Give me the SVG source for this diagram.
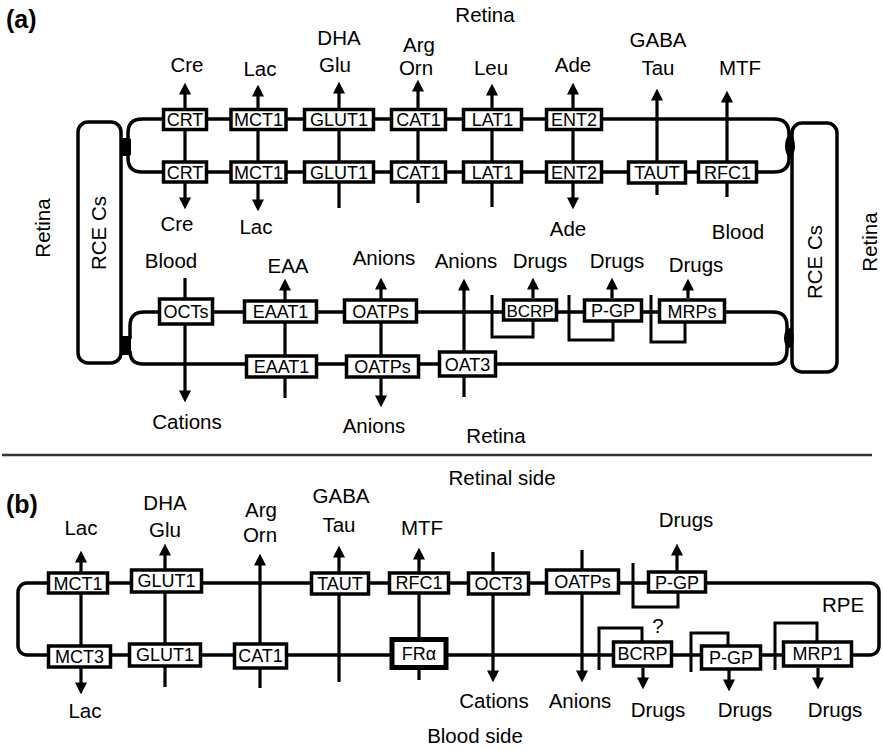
<svg xmlns="http://www.w3.org/2000/svg" width="883" height="750" viewBox="0 0 883 750">
<defs>
<style>
.mem{fill:none;stroke:#000;stroke-width:3.5}
.ln{fill:none;stroke:#000;stroke-width:3.2}
.br{fill:none;stroke:#000;stroke-width:3}
.bx{fill:#fff;stroke:#000;stroke-width:3.5}
.bt{font-family:"Liberation Sans",Arial,sans-serif;font-size:18px;text-anchor:middle;fill:#000}
.lb{font-family:"Liberation Sans",Arial,sans-serif;font-size:20.5px;text-anchor:middle;fill:#000}
.hd{font-family:"Liberation Sans",Arial,sans-serif;font-size:25px;font-weight:bold;fill:#000}
</style>
<marker id="ah" viewBox="0 0 10 10" refX="3" refY="5" markerWidth="12" markerHeight="12" markerUnits="userSpaceOnUse" orient="auto-start-reverse"><path d="M0,0 L10,5 L0,10 z" fill="#000"/></marker>
</defs>
<rect width="883" height="750" fill="#fff"/>

<g id="connectors">
<path class="mem" d="M128 141 L128 133 Q128 119 142 119 L774 119 Q789 119 789 134 L789 141"/>
<path class="mem" d="M128 152 L128 158 Q128 172 142 172 L774 172 Q789 172 789 158 L789 151"/>
<rect x="121" y="138" width="10" height="18" rx="2" fill="#000"/>
<ellipse cx="790" cy="146" rx="5" ry="11" fill="#000"/>
<path class="ln" d="M185 201 L185 91" marker-start="url(#ah)" marker-end="url(#ah)"/>
<path class="ln" d="M258 203 L258 93" marker-start="url(#ah)" marker-end="url(#ah)"/>
<path class="ln" d="M339 208 L339 90" marker-end="url(#ah)"/>
<path class="ln" d="M418 203 L418 88" marker-end="url(#ah)"/>
<path class="ln" d="M492 207 L492 92" marker-end="url(#ah)"/>
<path class="ln" d="M573 201 L573 91" marker-start="url(#ah)" marker-end="url(#ah)"/>
<path class="ln" d="M657 195 L657 97" marker-end="url(#ah)"/>
<path class="ln" d="M727 197 L727 99" marker-end="url(#ah)"/>
<path class="mem" d="M130 339 L130 326 Q130 312 144 312 L773 312 Q787 312 787 326 L787 333"/>
<path class="mem" d="M130 351 Q130 364 143 364 L773 364 Q787 364 787 350 L787 343"/>
<rect x="121" y="336" width="10" height="19" rx="2" fill="#000"/>
<ellipse cx="789" cy="338" rx="5" ry="10" fill="#000"/>
<path class="ln" d="M185 278 L185 394" marker-end="url(#ah)"/>
<path class="ln" d="M285 398 L285 287" marker-end="url(#ah)"/>
<path class="ln" d="M381 399 L381 286" marker-start="url(#ah)" marker-end="url(#ah)"/>
<path class="ln" d="M464 397 L464 287" marker-end="url(#ah)"/>
<path class="ln" d="M533 298 L533 286" marker-end="url(#ah)"/>
<path class="br" d="M533 320 L533 337 L492 337 L492 295"/>
<path class="ln" d="M612 298 L612 286" marker-end="url(#ah)"/>
<path class="br" d="M613 322 L613 340 L569 340 L569 295"/>
<path class="ln" d="M688 298 L688 287" marker-end="url(#ah)"/>
<path class="br" d="M685 323 L685 342 L651 342 L651 295"/>
<line x1="2" y1="455" x2="872" y2="455" stroke="#333" stroke-width="2.5"/>
<rect class="mem" x="18" y="583" width="861" height="72" rx="9"/>
<path class="ln" d="M81 686 L81 559" marker-start="url(#ah)" marker-end="url(#ah)"/>
<path class="ln" d="M165 687 L165 552" marker-end="url(#ah)"/>
<path class="ln" d="M260 688 L260 562" marker-end="url(#ah)"/>
<path class="ln" d="M339 682 L339 554" marker-end="url(#ah)"/>
<path class="ln" d="M419 680 L419 556" marker-end="url(#ah)"/>
<path class="ln" d="M493 552 L493 674" marker-end="url(#ah)"/>
<path class="ln" d="M582 550 L582 674" marker-end="url(#ah)"/>
<path class="ln" d="M677 572 L677 552" marker-end="url(#ah)"/>
<path class="br" d="M678 593 L678 607 L633 607 L633 563"/>
<path class="ln" d="M643 668 L643 681" marker-end="url(#ah)"/>
<path class="br" d="M642 644 L642 628 L599 628 L599 670"/>
<path class="ln" d="M729 670 L729 683" marker-end="url(#ah)"/>
<path class="br" d="M728 645 L728 633 L691 633 L691 672"/>
<path class="ln" d="M818 668 L818 681" marker-end="url(#ah)"/>
<path class="br" d="M817 644 L817 623 L775 623 L775 670"/>
</g>

<g id="rce-left"><rect class="mem" x="78" y="122" width="43" height="241" rx="10"/><text class="lb" transform="translate(106 233) rotate(-90)">RCE Cs</text></g>
<g id="rce-right"><rect class="mem" x="792" y="123" width="45" height="249" rx="10"/><text class="lb" transform="translate(822 262) rotate(-90)">RCE Cs</text></g>

<g id="a-crt1"><rect class="bx" x="163.5" y="109.5" width="43" height="20"/><text class="bt" x="185" y="126">CRT</text></g>
<g id="a-mct1-1"><rect class="bx" x="231" y="109.5" width="55" height="20"/><text class="bt" x="258.5" y="126">MCT1</text></g>
<g id="a-glut1-1"><rect class="bx" x="304.5" y="109.5" width="69" height="20"/><text class="bt" x="339" y="126">GLUT1</text></g>
<g id="a-cat1-1"><rect class="bx" x="391.5" y="109.5" width="54" height="20"/><text class="bt" x="418.5" y="126">CAT1</text></g>
<g id="a-lat1-1"><rect class="bx" x="463.5" y="109.5" width="58" height="20"/><text class="bt" x="492.5" y="126">LAT1</text></g>
<g id="a-ent2-1"><rect class="bx" x="546.5" y="109.5" width="55" height="20"/><text class="bt" x="574" y="126">ENT2</text></g>
<g id="a-crt2"><rect class="bx" x="163.5" y="162" width="43" height="20"/><text class="bt" x="185" y="178.5">CRT</text></g>
<g id="a-mct1-2"><rect class="bx" x="231" y="162" width="55" height="20"/><text class="bt" x="258.5" y="178.5">MCT1</text></g>
<g id="a-glut1-2"><rect class="bx" x="304.5" y="162" width="69" height="20"/><text class="bt" x="339" y="178.5">GLUT1</text></g>
<g id="a-cat1-2"><rect class="bx" x="391.5" y="162" width="54" height="20"/><text class="bt" x="418.5" y="178.5">CAT1</text></g>
<g id="a-lat1-2"><rect class="bx" x="463.5" y="162" width="58" height="20"/><text class="bt" x="492.5" y="178.5">LAT1</text></g>
<g id="a-ent2-2"><rect class="bx" x="546.5" y="162" width="55" height="20"/><text class="bt" x="574" y="178.5">ENT2</text></g>
<g id="a-taut"><rect class="bx" x="628.5" y="162" width="57" height="21"/><text class="bt" x="657" y="179">TAUT</text></g>
<g id="a-rfc1"><rect class="bx" x="698.5" y="162" width="58" height="20"/><text class="bt" x="727.5" y="178.5">RFC1</text></g>
<g id="a-octs"><rect class="bx" x="159.5" y="299" width="53" height="25"/><text class="bt" x="186" y="318">OCTs</text></g>
<g id="a-eaat1-1"><rect class="bx" x="244.5" y="301" width="72" height="21"/><text class="bt" x="280.5" y="318">EAAT1</text></g>
<g id="a-oatps-1"><rect class="bx" x="344.5" y="300" width="72" height="22"/><text class="bt" x="380.5" y="317.5">OATPs</text></g>
<g id="a-bcrp"><rect class="bx" x="503.5" y="300" width="53" height="20"/><text class="bt" x="530" y="316.5" style="font-size:17px">BCRP</text></g>
<g id="a-pgp"><rect class="bx" x="584.5" y="300" width="57" height="21"/><text class="bt" x="613" y="317">P-GP</text></g>
<g id="a-mrps"><rect class="bx" x="659.5" y="300" width="65" height="22"/><text class="bt" x="692" y="318">MRPs</text></g>
<g id="a-eaat1-2"><rect class="bx" x="246.5" y="356" width="70" height="21"/><text class="bt" x="281.5" y="373">EAAT1</text></g>
<g id="a-oatps-2"><rect class="bx" x="346.5" y="356" width="72" height="21"/><text class="bt" x="382.5" y="373">OATPs</text></g>
<g id="a-oat3"><rect class="bx" x="439.5" y="352" width="56" height="24"/><text class="bt" x="467.5" y="370.5">OAT3</text></g>

<g id="b-mct1"><rect class="bx" x="48.5" y="573" width="59" height="20"/><text class="bt" x="78" y="589.5">MCT1</text></g>
<g id="b-glut1-1"><rect class="bx" x="131.5" y="570" width="70" height="22"/><text class="bt" x="166.5" y="587">GLUT1</text></g>
<g id="b-taut"><rect class="bx" x="311.5" y="573" width="57" height="21"/><text class="bt" x="340" y="590">TAUT</text></g>
<g id="b-rfc1"><rect class="bx" x="389.5" y="573" width="59" height="20"/><text class="bt" x="419" y="589">RFC1</text></g>
<g id="b-oct3"><rect class="bx" x="468.5" y="573" width="60" height="21"/><text class="bt" x="498.5" y="590">OCT3</text></g>
<g id="b-oatps"><rect class="bx" x="546.5" y="570" width="72" height="23"/><text class="bt" x="582.5" y="588">OATPs</text></g>
<g id="b-pgp-1"><rect class="bx" x="648.5" y="572" width="57" height="20"/><text class="bt" x="677" y="588.5">P-GP</text></g>
<g id="b-mct3"><rect class="bx" x="48.5" y="646" width="62" height="21"/><text class="bt" x="79.5" y="663">MCT3</text></g>
<g id="b-glut1-2"><rect class="bx" x="129.5" y="644" width="71" height="22"/><text class="bt" x="165" y="661">GLUT1</text></g>
<g id="b-cat1"><rect class="bx" x="234.5" y="644" width="52" height="24"/><text class="bt" x="260.5" y="662">CAT1</text></g>
<g id="b-fra"><rect class="bx" x="392" y="639.5" width="54" height="28" style="stroke-width:5"/><text class="bt" x="419" y="660">FRα</text></g>
<g id="b-bcrp"><rect class="bx" x="613.5" y="642" width="58" height="24"/><text class="bt" x="642.5" y="660">BCRP</text></g>
<g id="b-pgp-2"><rect class="bx" x="701.5" y="646" width="59" height="23"/><text class="bt" x="731" y="664">P-GP</text></g>
<g id="b-mrp1"><rect class="bx" x="783.5" y="642" width="68" height="24"/><text class="bt" x="817.5" y="660">MRP1</text></g>

<g id="labels">
<text class="hd" x="6" y="28">(a)</text>
<text class="lb" x="485" y="22">Retina</text>
<text class="lb" x="187" y="72">Cre</text>
<text class="lb" x="260" y="76">Lac</text>
<text class="lb" x="339" y="45">DHA</text>
<text class="lb" x="335" y="72">Glu</text>
<text class="lb" x="419" y="52">Arg</text>
<text class="lb" x="416" y="75">Orn</text>
<text class="lb" x="491" y="75">Leu</text>
<text class="lb" x="573" y="72">Ade</text>
<text class="lb" x="658" y="47">GABA</text>
<text class="lb" x="658" y="75">Tau</text>
<text class="lb" x="740" y="75">MTF</text>
<text class="lb" x="177" y="231">Cre</text>
<text class="lb" x="256" y="234">Lac</text>
<text class="lb" x="568" y="236">Ade</text>
<text class="lb" x="738" y="239">Blood</text>
<text class="lb" transform="translate(50 228) rotate(-90)">Retina</text>
<text class="lb" transform="translate(877 242) rotate(-90)">Retina</text>
<text class="lb" x="171" y="268">Blood</text>
<text class="lb" x="288" y="273">EAA</text>
<text class="lb" x="384" y="265">Anions</text>
<text class="lb" x="466" y="268">Anions</text>
<text class="lb" x="540" y="268">Drugs</text>
<text class="lb" x="617" y="268">Drugs</text>
<text class="lb" x="696" y="272">Drugs</text>
<text class="lb" x="187" y="429">Cations</text>
<text class="lb" x="374" y="433">Anions</text>
<text class="lb" x="496" y="443">Retina</text>
<text class="hd" x="6" y="513">(b)</text>
<text class="lb" x="502" y="485">Retinal side</text>
<text class="lb" x="81" y="535">Lac</text>
<text class="lb" x="165" y="510">DHA</text>
<text class="lb" x="165" y="537">Glu</text>
<text class="lb" x="261" y="517">Arg</text>
<text class="lb" x="260" y="542">Orn</text>
<text class="lb" x="341" y="503">GABA</text>
<text class="lb" x="339" y="532">Tau</text>
<text class="lb" x="422" y="535">MTF</text>
<text class="lb" x="686" y="527">Drugs</text>
<text class="lb" x="843" y="612">RPE</text>
<text class="lb" x="658" y="633">?</text>
<text class="lb" x="85" y="718">Lac</text>
<text class="lb" x="494" y="708">Cations</text>
<text class="lb" x="580" y="708">Anions</text>
<text class="lb" x="658" y="717">Drugs</text>
<text class="lb" x="745" y="717">Drugs</text>
<text class="lb" x="835" y="717">Drugs</text>
<text class="lb" x="475" y="743">Blood side</text>
</g>
</svg>
